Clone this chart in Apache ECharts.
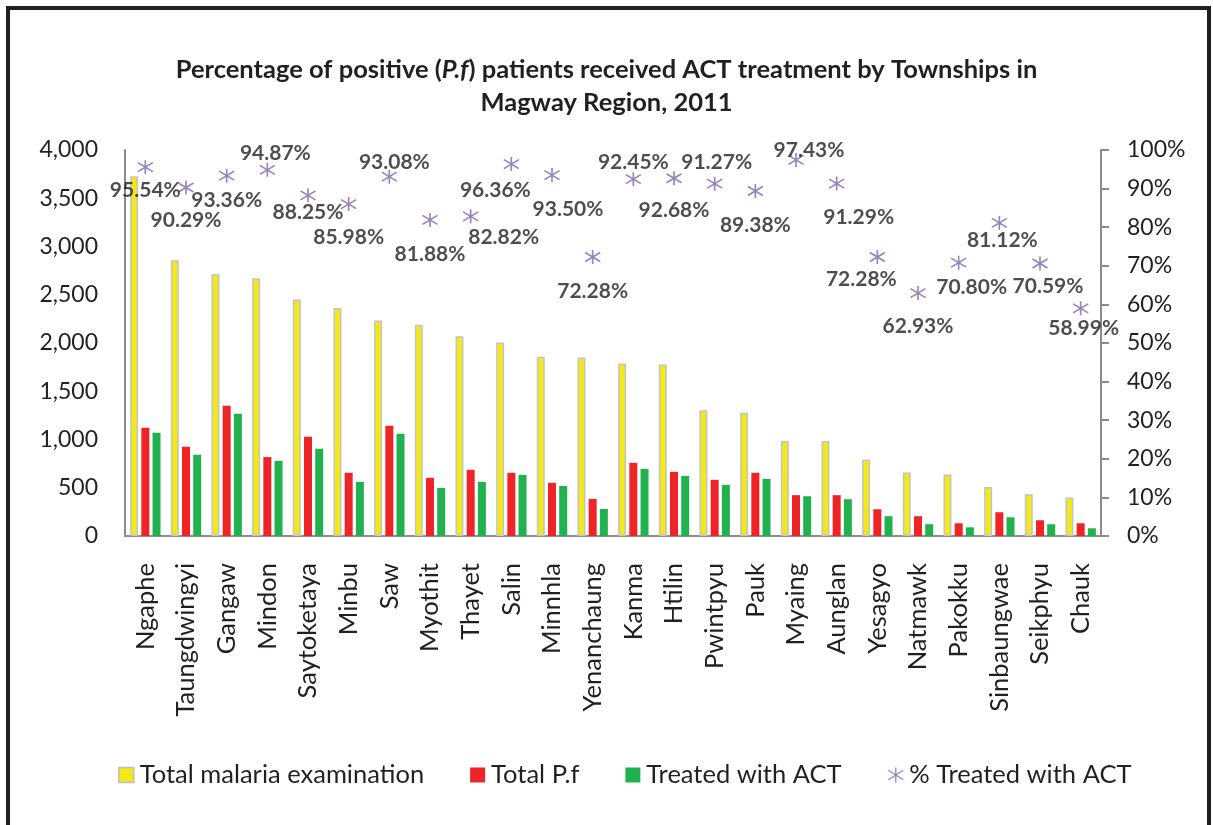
<!DOCTYPE html>
<html>
<head>
<meta charset="utf-8">
<script src="https://cdn.jsdelivr.net/npm/echarts@6/dist/echarts.min.js"></script>
<style>
html,body{margin:0;padding:0;background:#fff;}
#chart{width:1213px;height:825px;}
</style>
</head>
<body>
<div id="chart"></div>
<script>
const categories = ['Ngaphe','Taungdwingyi','Gangaw','Mindon','Saytoketaya','Minbu','Saw','Myothit','Thayet','Salin','Minnhla','Yenanchaung','Kanma','Htilin','Pwintpyu','Pauk','Myaing','Aunglan','Yesagyo','Natmawk','Pakokku','Sinbaungwae','Seikphyu','Chauk'];
const totalExam = [3728, 2857, 2715, 2670, 2452, 2362, 2234, 2189, 2071, 2005, 1857, 1849, 1787, 1777, 1302, 1278, 984, 984, 793, 658, 637, 509, 433, 398];
const totalPf = [1122, 925, 1351, 818, 1029, 655, 1143, 603, 686, 655, 551, 384, 758, 665, 582, 655, 423, 423, 277, 205, 132, 246, 163, 132];
const treatedAct = [1070, 842, 1268, 779, 904, 561, 1060, 499, 561, 634, 519, 281, 696, 623, 530, 592, 412, 381, 205, 122, 90, 194, 122, 80];
const pctTreated = [95.54, 90.29, 93.36, 94.87, 88.25, 85.98, 93.08, 81.88, 82.82, 96.36, 93.50, 72.28, 92.45, 92.68, 91.27, 89.38, 97.43, 91.29, 72.28, 62.93, 70.80, 81.12, 70.59, 58.99];
const leftTicks = {min: 0, max: 4000, interval: 500};
const rightTicks = {min: 0, max: 100, interval: 10};

// label placement (layout only)
const labelShift = [[0,23],[0,33],[0,25],[8,-17],[0,17],[0,33],[5,-14],[0,34],[33,21],[-16,26],[16,34],[0,34],[0,-17],[0,32],[2,-21],[0,34],[13,-10],[22,34],[-16,22],[0,33],[13,25],[3,17],[8,23],[3,20]];

const FONT = 'Lato';
const TXT = '#231f20';
const AXIS = '#8c8c8c';
const star = 'path://M7,0 L7,14 M0,2.5 L14,11.5 M0,11.5 L14,2.5';

const chart = echarts.init(document.getElementById('chart'), null, {renderer: 'canvas'});
chart.setOption({
  backgroundColor: '#fff',
  animation: false,
  textStyle: {fontFamily: FONT},
  graphic: [{
    type: 'rect', z: 100, silent: true,
    shape: {x: 8, y: 8, width: 1201, height: 840},
    style: {fill: 'none', stroke: '#231f20', lineWidth: 4}
  }],
  title: {
    text: 'Percentage of positive ({i|P.f}) patients received ACT treatment by Townships in\nMagway Region, 2011',
    left: 'center', top: 48,
    textStyle: {
      fontFamily: FONT, fontSize: 25.5, fontWeight: 'bold', color: TXT, lineHeight: 33,
      rich: {i: {fontFamily: FONT, fontSize: 25.5, fontWeight: 'bold', fontStyle: 'italic', color: TXT, lineHeight: 33}}
    }
  },
  legend: {
    left: 113, top: 757,
    itemWidth: 15, itemHeight: 15, itemGap: 46,
    textStyle: {fontFamily: FONT, fontSize: 25.5, color: TXT, padding: [0, 0, 0, 1]},
    data: [
      {name: 'Total malaria examination', icon: 'rect', itemStyle: {color: '#f2e81a', borderColor: '#bfbfbf', borderWidth: 1.5}},
      {name: 'Total P.f', icon: 'rect'},
      {name: 'Treated with ACT', icon: 'rect'},
      {name: '% Treated with ACT', icon: star, itemStyle: {color: 'transparent', borderColor: '#8064a8', borderWidth: 1.3}}
    ]
  },
  grid: {left: 125, right: 112, top: 150, bottom: 289, containLabel: false},
  xAxis: {
    type: 'category', data: categories,
    axisLine: {lineStyle: {color: AXIS, width: 2}},
    axisTick: {show: false},
    axisLabel: {rotate: 90, margin: 27, fontFamily: FONT, fontSize: 25.5, color: TXT, interval: 0}
  },
  yAxis: [{
    type: 'value', min: leftTicks.min, max: leftTicks.max, interval: leftTicks.interval,
    axisLine: {show: true, lineStyle: {color: AXIS, width: 2}},
    axisTick: {show: false},
    splitLine: {show: false},
    axisLabel: {margin: 27, fontFamily: FONT, fontSize: 23, color: TXT,
      formatter: v => v.toLocaleString('en-US')}
  }, {
    type: 'value', min: rightTicks.min, max: rightTicks.max, interval: rightTicks.interval,
    position: 'right',
    axisLine: {show: true, lineStyle: {color: AXIS, width: 2}},
    axisTick: {show: true, length: 8, inside: false, lineStyle: {color: AXIS, width: 2}},
    splitLine: {show: false},
    axisLabel: {margin: 26, fontFamily: FONT, fontSize: 23, color: TXT, formatter: '{value}%'}
  }],
  series: [{
    name: 'Total malaria examination', type: 'bar', data: totalExam,
    barWidth: 8, barGap: '40%', barCategoryGap: '26%',
    itemStyle: {color: '#f2e81a', borderColor: '#c4c4c4', borderWidth: 1.5}
  }, {
    name: 'Total P.f', type: 'bar', data: totalPf, barWidth: 8, barGap: '40%',
    itemStyle: {color: '#ee2426'}
  }, {
    name: 'Treated with ACT', type: 'bar', data: treatedAct, barWidth: 8, barGap: '40%',
    itemStyle: {color: '#21b14f'}
  }, {
    name: '% Treated with ACT', type: 'scatter', yAxisIndex: 1,
    symbol: star, symbolSize: [15, 14],
    itemStyle: {color: 'transparent', borderColor: '#8064a8', borderWidth: 1.6},
    data: pctTreated.map((v, i) => ({
      value: v,
      label: {offset: labelShift[i]}
    })),
    label: {
      show: true, position: 'inside',
      fontFamily: FONT, fontSize: 21, fontWeight: 'bold', color: TXT,
      formatter: p => p.value.toFixed(2) + '%'
    },
    z: 5
  }]
});
</script>
</body>
</html>
